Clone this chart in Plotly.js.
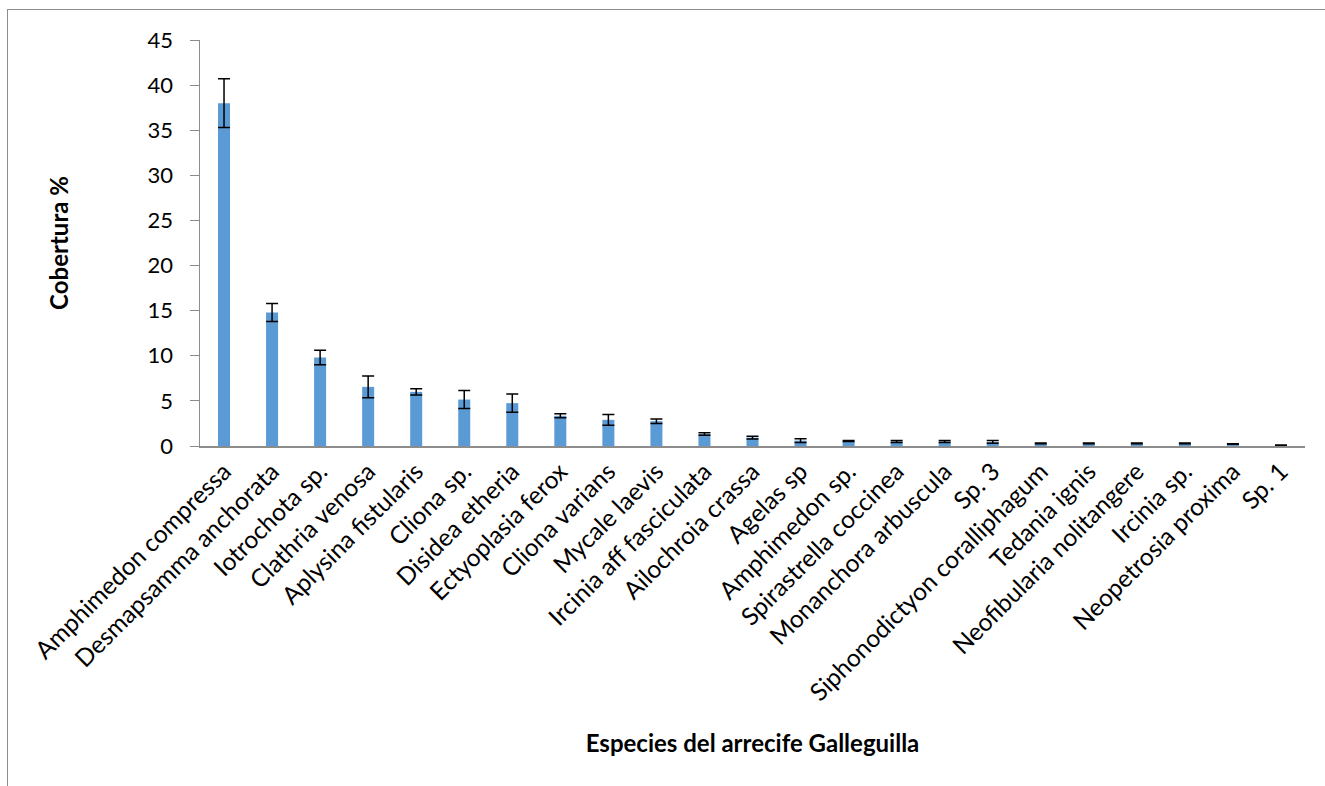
<!DOCTYPE html>
<html>
<head>
<meta charset="utf-8">
<script src="https://cdn.plot.ly/plotly-3.0.1.min.js"></script>
<style>
html,body{margin:0;padding:0;background:#fff;overflow:hidden;}
#chart{position:absolute;left:0;top:0;width:1325px;height:786px;}
#frame{position:absolute;left:7px;top:9px;width:1340px;height:800px;border-top:1px solid #8c8c8c;border-left:1px solid #8c8c8c;pointer-events:none;}
</style>
</head>
<body>
<div id="chart"></div>
<div id="frame"></div>
<script>
const species = [
  "Amphimedon compressa","Desmapsamma anchorata","Iotrochota sp.","Clathria venosa",
  "Aplysina fistularis","Cliona sp.","Disidea etheria","Ectyoplasia ferox",
  "Cliona varians","Mycale laevis","Ircinia aff fasciculata","Ailochroia crassa",
  "Agelas sp","Amphimedon sp.","Spirastrella coccinea","Monanchora arbuscula",
  "Sp. 3","Siphonodictyon coralliphagum","Tedania ignis","Neofibularia nolitangere",
  "Ircinia sp.","Neopetrosia proxima","Sp. 1"
];
const cobertura = [38.0, 14.8, 9.8, 6.55, 6.0, 5.15, 4.75, 3.35, 2.9, 2.75, 1.33, 0.93,
  0.6, 0.55, 0.5, 0.5, 0.45, 0.3, 0.3, 0.28, 0.28, 0.22, 0.1];
const errorSE = [2.7, 1.0, 0.8, 1.2, 0.35, 1.0, 1.0, 0.22, 0.6, 0.25, 0.15, 0.16,
  0.2, 0.05, 0.12, 0.12, 0.15, 0.04, 0.04, 0.04, 0.04, 0.03, 0.02];
const yTicks = [0,5,10,15,20,25,30,35,40,45];

const FONT = "Lato, Carlito, Calibri, 'Noto Sans', sans-serif";

const trace = {
  type: "bar",
  x: species,
  y: cobertura,
  marker: {color: "#5B9BD5"},
  error_y: {type: "data", array: errorSE, visible: true, color: "#000000", thickness: 1.5, width: 6},
  hoverinfo: "x+y"
};

const layout = {
  width: 1325, height: 786,
  margin: {l: 200, r: 20, t: 40, b: 340},
  paper_bgcolor: "#ffffff", plot_bgcolor: "#ffffff",
  showlegend: false,
  bargap: 0.75,
  font: {family: FONT, color: "#000000", size: 22},
  xaxis: {
    type: "category",
    tickangle: -45,
    showline: true, linecolor: "#8c8c8c", linewidth: 1.5,
    ticks: "", showgrid: false, zeroline: false,
    tickfont: {family: FONT, size: 24.5, color: "#000"},
    title: {text: "<b>Especies del arrecife Galleguilla</b>", font: {family: FONT, size: 24, color: "#000"}, standoff: 30}
  },
  yaxis: {
    range: [0, 45],
    tickvals: yTicks,
    showline: true, linecolor: "#8c8c8c", linewidth: 1.5,
    ticks: "outside", ticklen: 9, tickcolor: "#8c8c8c", tickwidth: 1,
    ticklabelstandoff: 12,
    showgrid: false, zeroline: false,
    tickfont: {family: FONT, size: 22, color: "#000"},
    title: {text: "<b>Cobertura %</b>", font: {family: FONT, size: 24, color: "#000"}, standoff: 72}
  }
};

Plotly.newPlot("chart", [trace], layout, {displayModeBar: false, staticPlot: true});
</script>
</body>
</html>
